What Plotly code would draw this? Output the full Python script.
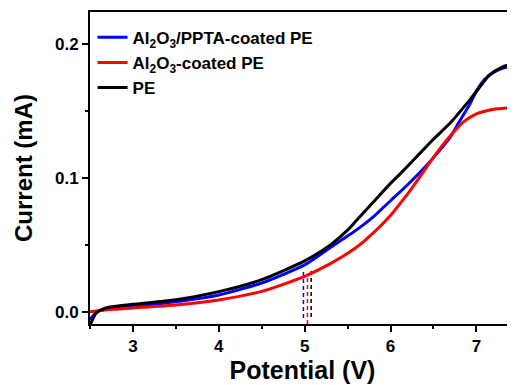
import plotly.graph_objects as go

# PE (black)
pe_v = [2.5, 2.53, 2.56, 2.6, 2.65, 2.7, 2.8, 3.0, 3.5, 4.0, 4.5, 5.0, 5.3, 5.5, 5.6, 5.8, 6.0, 6.15, 6.35, 6.5, 6.7, 6.93, 7.05, 7.15, 7.3, 7.45]
pe_i = [-0.010, -0.006, -0.002, 0.0005, 0.002, 0.003, 0.004, 0.0055, 0.009, 0.015, 0.024, 0.038, 0.050, 0.061, 0.068, 0.082, 0.096, 0.1055, 0.119, 0.129, 0.1415, 0.159, 0.169, 0.177, 0.183, 0.186]

# Al2O3/PPTA-coated PE (blue)
ppta_v = [2.5, 2.55, 2.6, 2.7, 3.0, 3.5, 4.0, 4.5, 5.0, 5.3, 5.6, 5.8, 6.0, 6.2, 6.4, 6.55, 6.7, 6.8, 6.93, 7.0, 7.1, 7.2, 7.3, 7.45]
ppta_i = [-0.006, -0.002, 0.0005, 0.002, 0.004, 0.0075, 0.0125, 0.0215, 0.035, 0.048, 0.061, 0.071, 0.083, 0.095, 0.108, 0.119, 0.131, 0.142, 0.156, 0.165, 0.174, 0.179, 0.182, 0.184]

# Al2O3-coated PE (red)
al_v = [2.5, 2.7, 3.0, 3.5, 4.0, 4.5, 4.75, 5.0, 5.3, 5.6, 5.8, 6.0, 6.15, 6.3, 6.43, 6.6, 6.73, 6.85, 7.0, 7.1, 7.2, 7.3, 7.45]
al_i = [0.0, 0.0015, 0.0028, 0.005, 0.0088, 0.0152, 0.0205, 0.0265, 0.036, 0.048, 0.059, 0.072, 0.084, 0.097, 0.109, 0.124, 0.134, 0.142, 0.148, 0.150, 0.1515, 0.152, 0.153]

# onset-potential dashed markers: (potential, bottom current, top current)
onset_v = [4.986, 5.033, 5.076]
onset_bottom = [-0.0047, -0.0092, -0.004]
onset_top = [0.032, 0.026, 0.032]
onset_colors = ["#0000ff", "#ff0000", "#000000"]

names = ["Al<sub>2</sub>O<sub>3</sub>/PPTA-coated PE", "Al<sub>2</sub>O<sub>3</sub>-coated PE", "PE"]

fig = go.Figure()
for v, b, t, c in zip(onset_v, onset_bottom, onset_top, onset_colors):
    fig.add_trace(go.Scatter(x=[v, v], y=[b, t], mode="lines", showlegend=False,
                             line=dict(color=c, width=1.5, dash="4px,3px")))

fig.add_trace(go.Scatter(x=ppta_v, y=ppta_i, mode="lines", name=names[0],
                         line=dict(color="#0000ff", width=3, shape="spline", smoothing=0.6)))
fig.add_trace(go.Scatter(x=al_v, y=al_i, mode="lines", name=names[1],
                         line=dict(color="#ff0000", width=3, shape="spline", smoothing=0.6)))
fig.add_trace(go.Scatter(x=pe_v, y=pe_i, mode="lines", name=names[2],
                         line=dict(color="#000000", width=3, shape="spline", smoothing=0.6)))

font_family = "Liberation Sans"
# the page body adds an 8px offset; the figure is sized/margined to compensate
fig.update_layout(
    width=507, height=377,
    margin=dict(l=82, r=0, t=4, b=61),
    paper_bgcolor="white", plot_bgcolor="white",
    font=dict(family=font_family, color="black", size=16, weight="bold"),
    legend=dict(x=0.006, y=0.975, xanchor="left", yanchor="top",
                bgcolor="rgba(0,0,0,0)", font=dict(family=font_family, size=17, weight="bold"),
                tracegroupgap=0, itemwidth=30),
    xaxis=dict(range=[2.5, 7.45], showgrid=False, zeroline=False, automargin=False,
               showline=True, linecolor="black", linewidth=2, mirror=True,
               ticks="outside", ticklen=6, tickwidth=2, tickcolor="black",
               tickvals=[3, 4, 5, 6, 7], tickfont=dict(family=font_family, size=17, weight="bold"),
               minor=dict(ticks="outside", ticklen=3, tickwidth=2, tickcolor="black", dtick=0.5, tick0=2.5),
               title=dict(text="Potential (V)", font=dict(family=font_family, size=25, weight="bold"), standoff=6)),
    yaxis=dict(range=[-0.0092, 0.2242], showgrid=False, zeroline=False, automargin=False,
               showline=True, linecolor="black", linewidth=2, mirror=False,
               ticks="outside", ticklen=6, tickwidth=2, tickcolor="black",
               tickvals=[0.0, 0.1, 0.2], ticktext=["0.0", "0.1", "0.2"],
               tickfont=dict(family=font_family, size=17, weight="bold"),
               minor=dict(ticks="outside", ticklen=3, tickwidth=2, tickcolor="black", dtick=0.05, tick0=0),
               title=dict(text="Current (mA)", font=dict(family=font_family, size=24, weight="bold"), standoff=16)),
)

fig.write_html("out.html")
